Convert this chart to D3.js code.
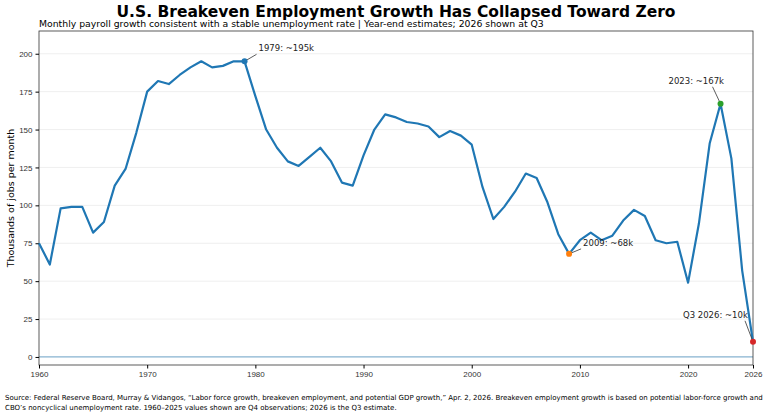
<!DOCTYPE html>
<html>
<head>
<script src="https://cdn.jsdelivr.net/npm/d3@7"></script>
<style>
  body { margin: 0; background: #fff; font-family: "DejaVu Sans", sans-serif; }
  .tick text { font-size: 8px; fill: #333; }
</style>
</head>
<body>
<svg id="chart" width="768" height="417"></svg>
<script>
const years = d3.range(1960, 2027);
const values = [75, 61, 98, 99, 99, 82, 89, 113, 124, 148,
  175, 182, 180, 186, 191, 195, 191, 192, 195, 195,
  172, 150, 138, 129, 126, 132, 138, 129, 115, 113,
  133, 150, 160, 158, 155, 154, 152, 145, 149, 146,
  140, 112, 91, 99, 109, 121, 118, 102, 81, 68,
  77, 82, 77, 80, 90, 97, 93, 77, 75, 76,
  49, 88, 141, 167, 131, 57, 10];
const yTicks = [0, 25, 50, 75, 100, 125, 150, 175, 200];
const xTicks = [1960, 1970, 1980, 1990, 2000, 2010, 2020, 2026];
const notes = [
  {year: 1979, label: "1979: ~195k", color: "#1f77b4", dx: 14, dy: -10},
  {year: 2009, label: "2009: ~68k", color: "#ff7f0e", dx: 14, dy: -8},
  {year: 2023, label: "2023: ~167k", color: "#2ca02c", dx: -52, dy: -20},
  {year: 2026, label: "Q3 2026: ~10k", color: "#d62728", dx: -70, dy: -24}
];

const svg = d3.select("#chart");
const m = {left: 39, right: 753, top: 31, bottom: 365};
const x = d3.scaleLinear().domain([1960, 2026]).range([m.left, m.right]);
const y = d3.scaleLinear().domain([-5.3, 215]).range([m.bottom, m.top]);

// grid
svg.append("g").selectAll("line").data(yTicks).join("line")
  .attr("x1", m.left).attr("x2", m.right)
  .attr("y1", d => y(d)).attr("y2", d => y(d))
  .attr("stroke", "#ebebeb").attr("stroke-width", 0.8);

// zero line
svg.append("line").attr("x1", m.left).attr("x2", m.right)
  .attr("y1", y(0)).attr("y2", y(0))
  .attr("stroke", "#1f77b4").attr("stroke-opacity", 0.5).attr("stroke-width", 1.2);

// frame
svg.append("rect").attr("x", m.left).attr("y", m.top)
  .attr("width", m.right - m.left).attr("height", m.bottom - m.top)
  .attr("fill", "none").attr("stroke", "#333").attr("stroke-width", 0.8);

svg.append("g").attr("transform", `translate(0,${m.bottom})`)
  .call(d3.axisBottom(x).tickValues(xTicks).tickFormat(d3.format("d")).tickSize(3.5))
  .call(g => g.select(".domain").remove());
svg.append("g").attr("transform", `translate(${m.left},0)`)
  .call(d3.axisLeft(y).tickValues(yTicks).tickSize(3.5))
  .call(g => g.select(".domain").remove());

const data = years.map((yr, i) => ({yr, v: values[i]}));
svg.append("path").datum(data)
  .attr("fill", "none").attr("stroke", "#1f77b4").attr("stroke-width", 2.2)
  .attr("stroke-linejoin", "round")
  .attr("d", d3.line().x(d => x(d.yr)).y(d => y(d.v)));

notes.forEach(n => {
  const v = values[years.indexOf(n.year)];
  const px = x(n.year), py = y(v);
  const tx = px + n.dx, ty = py + n.dy;
  svg.append("line").attr("x1", px).attr("y1", py)
    .attr("x2", n.dx > 0 ? tx - 2 : px - 8).attr("y2", ty + 3)
    .attr("stroke", "#333").attr("stroke-width", 0.8);
  svg.append("circle").attr("cx", px).attr("cy", py).attr("r", 3).attr("fill", n.color);
  svg.append("text").attr("x", tx).attr("y", ty)
    .attr("font-size", 8.5).attr("fill", "#222").text(n.label);
});

svg.append("text").attr("x", 396).attr("y", 17).attr("text-anchor", "middle")
  .attr("font-size", 15.5).attr("font-weight", "bold")
  .text("U.S. Breakeven Employment Growth Has Collapsed Toward Zero");
svg.append("text").attr("x", 39).attr("y", 27).attr("font-size", 9.3)
  .text("Monthly payroll growth consistent with a stable unemployment rate | Year-end estimates; 2026 shown at Q3");
svg.append("text").attr("transform", `translate(14,${(m.top + m.bottom) / 2}) rotate(-90)`)
  .attr("text-anchor", "middle").attr("font-size", 9.5).text("Thousands of jobs per month");
svg.append("text").attr("x", 5).attr("y", 400).attr("font-size", 7)
  .text("Source: Federal Reserve Board, Murray & Vidangos, \u201cLabor force growth, breakeven employment, and potential GDP growth,\u201d Apr. 2, 2026. Breakeven employment growth is based on potential labor-force growth and");
svg.append("text").attr("x", 5).attr("y", 410).attr("font-size", 7)
  .text("CBO\u2019s noncyclical unemployment rate. 1960\u20132025 values shown are Q4 observations; 2026 is the Q3 estimate.");
</script>
</body>
</html>
